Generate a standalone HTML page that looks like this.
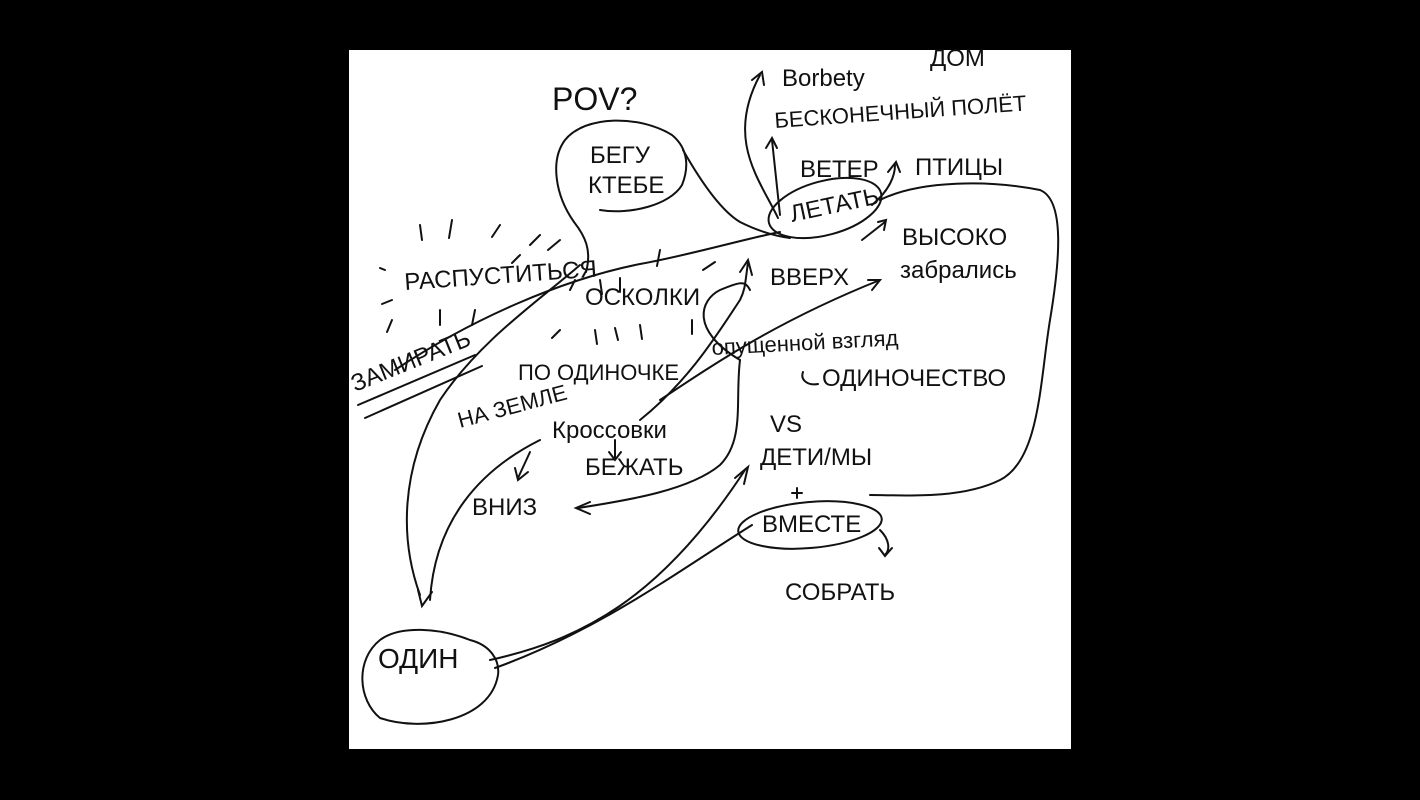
<!DOCTYPE html>
<html><head><meta charset="utf-8"><style>
html,body{margin:0;padding:0;background:#000;width:1420px;height:800px;overflow:hidden}
svg{display:block}
text{font-family:"Liberation Sans","DejaVu Sans",sans-serif;fill:#111;font-weight:normal}
</style></head><body>
<svg width="1420" height="800" viewBox="0 0 1420 800">
<rect x="0" y="0" width="1420" height="800" fill="#000"/>
<rect x="349" y="50" width="722" height="699" fill="#fff"/>
<g fill="none" stroke="#111" stroke-width="2" stroke-linecap="round">
<path d="M586 272 C592 250 585 236 574 222 C555 195 550 160 565 140 C585 115 640 115 672 135 C690 150 688 170 682 185 C670 205 630 215 600 210"/>
<path d="M683 150 C700 180 720 210 740 222 C760 232 775 236 790 238"/>
<ellipse cx="825" cy="208" rx="58" ry="27" transform="rotate(-15 825 208)"/>
<path d="M880 200 C920 180 990 180 1040 190 C1065 200 1060 260 1050 320 C1040 380 1040 460 1000 480 C960 500 900 495 870 495"/>
<path d="M395 370 C470 320 560 280 640 264 C690 255 740 240 780 232"/>
<path d="M420 595 C400 540 400 470 440 400 C480 340 540 300 580 265"/>
<path d="M470 640 C440 628 400 625 380 640 C355 660 358 700 380 718 C420 732 490 722 498 675 C500 660 490 645 470 640"/>
<path d="M490 660 C580 640 660 600 745 470"/><path d="M735 478 L748 467 L744 484"/>
<path d="M495 668 C600 630 680 570 752 525"/>
<ellipse cx="810" cy="525" rx="72" ry="23" transform="rotate(-5 810 525)"/>
<path d="M880 530 C890 540 890 550 885 555"/><path d="M879 548 L885 556 L892 548"/>
<path d="M640 420 C690 380 720 330 740 300 C745 290 745 285 748 262"/><path d="M740 272 L748 260 L752 275"/>
<path d="M660 400 C720 360 780 320 880 280"/><path d="M868 280 L880 280 L872 290"/>
<path d="M740 360 C735 400 745 440 720 465 C690 490 630 500 578 508"/><path d="M590 502 L576 508 L590 514"/>
<path d="M740 360 C690 330 700 300 720 290 C740 282 745 280 750 290"/>
<path d="M430 600 C435 520 480 470 540 440"/><path d="M418 590 L422 606 L432 592"/>
<path d="M530 452 L518 478"/><path d="M515 468 L518 480 L528 472"/>
<path d="M615 440 L615 458"/><path d="M609 452 L615 460 L621 452"/>
<path d="M778 218 C760 180 725 140 760 75"/><path d="M752 80 L762 72 L764 85"/>
<path d="M780 215 L772 140"/><path d="M766 148 L772 138 L777 148"/>
<path d="M872 205 C890 190 895 175 895 165"/><path d="M888 172 L896 162 L900 172"/>
<path d="M862 240 L885 222"/><path d="M878 222 L886 220 L884 230"/>
<path d="M803 372 C800 380 808 386 818 384"/>
<path d="M358 405 L475 355"/><path d="M365 418 L482 366"/>
<path d="M797 488 L797 498 M792 493 L802 493"/>
<path d="M420 225 l2 15 M452 220 l-3 18 M500 225 l-8 12 M540 235 l-10 10 M380 268 l5 2 M392 300 l-10 4 M392 320 l-5 12 M440 310 l0 15 M475 310 l-3 15 M520 255 l-8 8 M560 240 l-12 10 M575 280 l-5 10 M600 280 l2 14 M620 278 l0 14 M660 250 l-3 16 M715 262 l-12 8 M560 330 l-8 8 M595 330 l2 14 M615 328 l3 12 M640 325 l2 14 M692 320 l0 14"/>
</g>
<g font-size="24">
<text x="552" y="110" font-size="32">POV?</text>
<text x="590" y="163">БЕГУ</text>
<text x="588" y="193">КТЕБЕ</text>
<text x="782" y="86">Вorbety</text>
<text x="930" y="66">ДОМ</text>
<text x="775" y="128" font-size="22" transform="rotate(-4 775 128)">БЕСКОНЕЧНЫЙ ПОЛЁТ</text>
<text x="800" y="177">ВЕТЕР</text>
<text x="915" y="175">ПТИЦЫ</text>
<text x="792" y="222" transform="rotate(-12 792 222)">ЛЕТАТЬ</text>
<text x="902" y="245">ВЫСОКО</text>
<text x="900" y="278">забрались</text>
<text x="405" y="290" transform="rotate(-4 405 290)">РАСПУСТИТЬСЯ</text>
<text x="770" y="285">ВВЕРХ</text>
<text x="585" y="305">ОСКОЛКИ</text>
<text x="712" y="355" font-size="22" transform="rotate(-3 712 355)">опущенной взгляд</text>
<text x="355" y="392" transform="rotate(-22 355 392)">ЗАМИРАТЬ</text>
<text x="518" y="380" font-size="22">ПО ОДИНОЧКЕ</text>
<text x="822" y="386">ОДИНОЧЕСТВО</text>
<text x="460" y="428" font-size="22" transform="rotate(-15 460 428)">НА ЗЕМЛЕ</text>
<text x="552" y="438">Кроссовки</text>
<text x="770" y="432">VS</text>
<text x="585" y="475">БЕЖАТЬ</text>
<text x="760" y="465">ДЕТИ/МЫ</text>
<text x="472" y="515">ВНИЗ</text>
<text x="762" y="532">ВМЕСТЕ</text>
<text x="785" y="600">СОБРАТЬ</text>
<text x="378" y="668" font-size="28">ОДИН</text>
</g>
</svg>
</body></html>
